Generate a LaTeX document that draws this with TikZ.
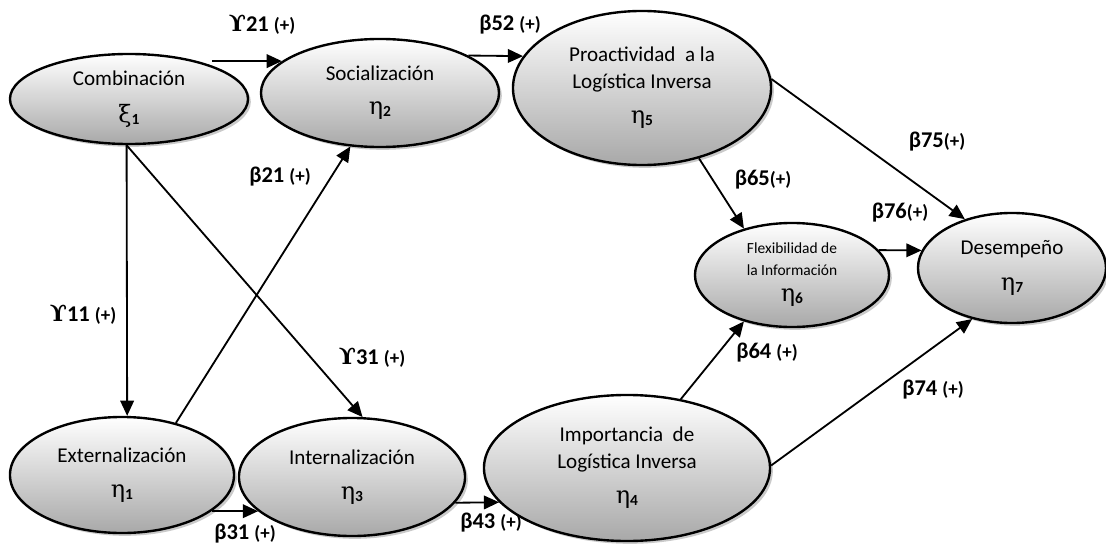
\documentclass[tikz,border=0pt]{standalone}
\usepackage{fontspec}
\setmainfont{Carlito}
\newfontfamily\greekfont{DejaVu Serif}
\usetikzlibrary{shapes.geometric,shadows,arrows.meta}

% latent variable: greek letter with a small bold index
\newcommand{\lv}[2]{{\fontsize{17}{17}\selectfont\greekfont #1}\raisebox{-1.5pt}{\fontsize{11}{11}\selectfont\bfseries #2}}
\newcommand{\ups}{{\greekfont ϒ}}
\newcommand{\pos}{{\fontsize{13.5}{13.5}\selectfont(+)}}

\begin{document}
\begin{tikzpicture}[
			x=0.025cm, y=-0.025cm,
			latent/.style={ellipse, draw=black, line width=1.7pt, top color=white, bottom color=gray!68, drop shadow={shadow xshift=2pt, shadow yshift=-2pt, fill=gray!70, opacity=0.6}, inner sep=0pt, align=center, font=\fontsize{15}{19}\selectfont},
			rel/.style={line width=1.3pt, -{Triangle[length=0.38cm, width=0.34cm]}},
			coef/.style={font=\bfseries\fontsize{16}{18}\selectfont, inner sep=0pt},
			]
			\useasboundingbox (0,0) rectangle (1106,545);
			%Nodes
				% top row
				\node[latent, minimum width=5.95cm, minimum height=2.25cm]		(comb)		at (129,99)		{Combinación\\[7pt]\lv{ξ}{1}};
				\node[latent, minimum width=5.95cm, minimum height=2.7cm]		(soc)		at (380,93)		{Socialización\\[5pt]\lv{η}{2}};
				\node[latent, minimum width=6.45cm, minimum height=3.85cm]		(proa)		at (642,88)		{Proactividad~ a la\\Logística Inversa\\[6pt]\lv{η}{5}};
				% middle row
				\node[latent, minimum width=4.85cm, minimum height=2.6cm, font=\fontsize{11}{15}\selectfont]		(flex)		at (792,275)		{Flexibilidad de\\la Información\\[4pt]\lv{η}{6}};
				\node[latent, minimum width=4.7cm, minimum height=2.75cm]		(des)		at (1012,268)		{Desempeño\\[6pt]\lv{η}{7}};
				% bottom row
				\node[latent, minimum width=5.6cm, minimum height=2.9cm]		(ext)		at (122,475)		{Externalización\\[6pt]\lv{η}{1}};
				\node[latent, minimum width=5.65cm, minimum height=2.95cm]		(int)		at (352,477)		{Internalización\\[6pt]\lv{η}{3}};
				\node[latent, minimum width=7.15cm, minimum height=3.65cm]		(imp)		at (627,468)		{Importancia~ de\\Logística Inversa\\[6pt]\lv{η}{4}};
				% path coefficients
				\node[coef]		(g21)		at (262,25)		{\ups21 \pos};
				\node[coef]		(b52)		at (510,25)		{β52 \pos};
				\node[coef]		(b21)		at (280,177)		{β21 \pos};
				\node[coef]		(g11)		at (83,315)		{\ups11 \pos};
				\node[coef]		(g31)		at (372,358)		{\ups31 \pos};
				\node[coef]		(b31)		at (245,534)		{β31 \pos};
				\node[coef]		(b43)		at (491,523)		{β43 \pos};
				\node[coef]		(b65)		at (763,180)		{β65\pos};
				\node[coef]		(b75)		at (937,142)		{β75\pos};
				\node[coef]		(b76)		at (900,213)		{β76\pos};
				\node[coef]		(b64)		at (767,353)		{β64 \pos};
				\node[coef]		(b74)		at (933,390)		{β74 \pos};

			%Lines
				% from combinacion
				\draw[rel] (comb.22 |- soc.162) -- (soc.162);
				\draw[rel] (comb.267) -- (ext.85);
				\draw[rel] (comb.267) -- (int.80);
				% knowledge conversion
				\draw[rel] (ext.44) -- (soc.241);
				\draw[rel] (ext.-22) -- (ext.-22 -| int.200);
				\draw[rel] (soc.23) -- (proa.165);
				\draw[rel] (int.-14) -- (imp.195);
				% towards desempeno
				\draw[rel] (proa.-51) -- (flex.136);
				\draw[rel] (proa.4) -- (des.134);
				\draw[rel] (imp.52) -- (flex.224);
				\draw[rel] (imp.1) -- (des.232);
				\draw[rel] (flex.16) -- (des.169);
		\end{tikzpicture}
\end{document}
